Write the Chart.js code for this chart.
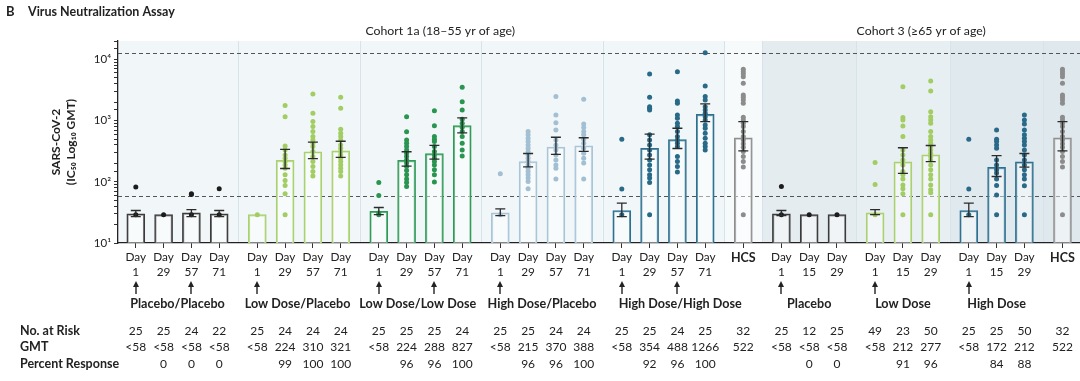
<!DOCTYPE html>
<html><head><meta charset="utf-8">
<script src="https://cdn.jsdelivr.net/npm/chart.js@4"></script>
<style>html,body{margin:0;padding:0;background:#fff;}canvas{display:block;}</style>
</head><body>
<canvas id="c" width="1080" height="381"></canvas>
<script>
// ---------- DATA ----------
const groupNames = ['Placebo/Placebo','Low Dose/Placebo','Low Dose/Low Dose','High Dose/Placebo','High Dose/High Dose','','Placebo','Low Dose','High Dose',''];
const cohortNames = ['Cohort 1a (18–55 yr of age)','Cohort 3 (≥65 yr of age)'];
const cohortGroups = [[0,5],[6,9]];
const categoryGroup = [0,0,0,0, 1,1,1,1, 2,2,2,2, 3,3,3,3, 4,4,4,4, 5, 6,6,6, 7,7,7, 8,8,8, 9];
const dayLabels = ['1','29','57','71','1','29','57','71','1','29','57','71','1','29','57','71','1','29','57','71','HCS','1','15','29','1','15','29','1','15','29','HCS'];
const doseGiven = [1,0,1,0, 1,0,0,0, 1,0,1,0, 1,0,0,0, 1,0,1,0, 0, 1,0,0, 1,0,0, 1,0,0, 0];
const barGMT = [30,29,31,30, 29,224,310,321, 33,224,288,827, 31,215,370,388, 34,354,488,1266, 522, 30,29,29, 31,212,277, 34,172,212, 522];
const ciLow  = [27,null,27,27, null,165,240,250, 29,180,235,630, 28,175,280,315, 27,235,350,965, 320, 28,null,null, 29,137,213, 27,122,174, 320];
const ciHigh = [34,null,35,34, null,340,445,460, 38,310,395,1110, 36,290,535,525, 45,600,750,1880, 960, 34,null,null, 35,360,392, 45,267,290, 960];
const hcsPoints = [6890,6300,5780,5220,4070,2625,2410,2180,1920,1135,1025,908,798,662,548,484,417,368,312,259,214,174,29];
const pointValues = [
  [82,29],[29],[64,62,29],[77,29],
  [29],
  [1760,1160,386,332,275,243,214,189,167,130,105,87,64,29],
  [2730,1320,964,798,662,548,484,428,377,312,259,214,178,147,125],
  [2410,1590,725,623,548,484,401,355,312,275,243,214,189,167,147,125],
  [97,60,31,29],
  [1160,655,484,428,377,332,294,259,228,202,178,153,130,111,97,84],
  [1455,828,548,497,454,377,312,275,243,214,189,157,130,99],
  [3510,2040,1495,1054,908,780,662,548,428,332,265],
  [135,29],
  [662,585,516,454,401,355,312,275,243,214,189,167,147,130,115,101,77],
  [2470,1240,927,705,484,401,332,275,228,189,167,111],
  [2234,883,769,662,585,497,428,355,294,243,202,111],
  [497,76,29],
  [5780,2410,1690,1590,1495,585,484,401,332,275,228,189,157,130,115,97,29],
  [6300,2095,1920,1240,1095,908,798,662,548,484,428,377,259,214,178,144],
  [12850,3680,2470,2180,1690,1495,1320,1160,1025,851,751,623,516,428,377,332],
  hcsPoints,
  [84,29],[29],[29],
  [207,90,29],
  [3590,1120,1025,818,548,332,275,228,189,147,130,111,89,77,64,29],
  [4445,3050,1400,1160,1025,908,662,548,484,428,377,332,294,259,228,189,157,130,111,89,74,66,29],
  [497,76,29],
  [705,497,454,401,355,228,189,157,139,111,87,61,29],
  [1240,1025,883,705,585,516,454,401,332,275,228,189,157,130,111,86,29],
  hcsPoints
];
const riskRow = ['25','25','24','22','25','24','24','24','25','25','25','24','25','25','24','24','25','25','24','25','32','25','12','25','49','23','50','25','25','50','32'];
const gmtRow  = ['<58','<58','<58','<58','<58','224','310','321','<58','224','288','827','<58','215','370','388','<58','354','488','1266','522','<58','<58','<58','<58','212','277','<58','172','212','522'];
const pctRow  = ['','0','0','0','','99','100','100','','96','96','100','','96','96','100','','92','96','100','','','0','0','','91','96','','84','88',''];
const tableLabels = ['No. at Risk','GMT','Percent Response'];
const lloq = 58;
const uloq = 12850;

// ---------- STYLE ----------
const FONT = 'Lato, "Open Sans", sans-serif';
const GAP = 0.37;
const groupLabelShift = [0,-0.05,-0.1,0,0.6,0,0,0,0,0];
const barPalette   = ['#3b3b3b','#a9d170','#2f9a57','#a9c5d8','#2c6f8f','#8f8f8f','#3b3b3b','#a9d170','#2c6f8f','#8f8f8f'];
const pointPalette = ['#1c1c1c','#a2cd62','#2a9550','#a2bfd3','#286a88','#8c8c8c','#1c1c1c','#a2cd62','#286a88','#8c8c8c'];
const bgPalette    = ['#f1f7f9','#f1f7f9','#f1f7f9','#f1f7f9','#f1f7f9','#f6fafb','#e4ecf0','#e8eff2','#e0e9ee','#dfe8ed'];

const xPos = categoryGroup.map((g,i)=> i + GAP*g);
const tickLabels = dayLabels.map(d => d==='HCS' ? 'HCS' : ['Day', d]);
const barData = xPos.map((x,i)=>({x, y: barGMT[i]}));
const pointData = [], pointColors = [];
pointValues.forEach((arr,i)=>arr.forEach(v=>{pointData.push({x:xPos[i], y:v}); pointColors.push(pointPalette[categoryGroup[i]]);}));
const barColors = categoryGroup.map(g=>barPalette[g]);
const SUP = {1:'¹',2:'²',3:'³',4:'⁴'};

function groupRange(g){ const idx=[]; categoryGroup.forEach((gg,i)=>{if(gg===g) idx.push(i);}); return idx; }
function groupBounds(chart, g){
  const xs = chart.scales.x, ca = chart.chartArea;
  const idx = groupRange(g);
  const first = xPos[idx[0]], last = xPos[idx[idx.length-1]];
  let l = ca.left, r = ca.right;
  if (g>0){ const p = groupRange(g-1); l = xs.getPixelForValue((xPos[p[p.length-1]]+first)/2); }
  if (g<groupNames.length-1){ const n = groupRange(g+1); r = xs.getPixelForValue((xPos[n[0]]+last)/2); }
  return [l,r];
}

const decor = {
  id:'decor',
  beforeDraw(chart){
    const c = chart.ctx, ca = chart.chartArea;
    c.save();
    c.fillStyle='#fff'; c.fillRect(0,0,chart.width,chart.height);
    for (let g=0; g<groupNames.length; g++){
      const [l,r] = groupBounds(chart,g);
      c.fillStyle = bgPalette[g]; c.fillRect(l, ca.top, r-l, ca.bottom-ca.top);
    }
    c.strokeStyle='#d6e3ea'; c.lineWidth=1;
    for (let g=1; g<groupNames.length; g++){
      const [l] = groupBounds(chart,g);
      c.beginPath(); c.moveTo(Math.round(l)+0.5, ca.top); c.lineTo(Math.round(l)+0.5, ca.bottom); c.stroke();
    }
    // title
    c.fillStyle='#222'; c.textBaseline='middle'; c.textAlign='left';
    c.font = 'bold 13px '+FONT; c.fillText('B', 6, 12);
    c.font = 'bold 12.5px '+FONT; c.fillText('Virus Neutralization Assay', 28, 12);
    // cohort headings
    c.font = '12.3px '+FONT; c.textAlign='center';
    cohortGroups.forEach((gr,k)=>{
      const l = groupBounds(chart,gr[0])[0], r = groupBounds(chart,gr[1])[1];
      c.fillText(cohortNames[k], (l+r)/2, 31);
    });
    c.restore();
  },
  beforeDatasetsDraw(chart){
    const c = chart.ctx, ca = chart.chartArea, ys = chart.scales.y;
    c.save(); c.strokeStyle='#555'; c.lineWidth=1.2; c.setLineDash([4,3]);
    [lloq, uloq].forEach(v=>{ const y = Math.round(ys.getPixelForValue(v))+0.5; c.beginPath(); c.moveTo(ca.left, y); c.lineTo(ca.right, y); c.stroke(); });
    c.restore();
  },
  afterDatasetsDraw(chart){
    const c = chart.ctx, xs = chart.scales.x, ys = chart.scales.y;
    c.save(); c.strokeStyle='#2b2b2b'; c.lineWidth=1.3;
    xPos.forEach((x,i)=>{
      if (ciLow[i]==null) return;
      const px = xs.getPixelForValue(x), y1 = ys.getPixelForValue(ciLow[i]), y2 = ys.getPixelForValue(ciHigh[i]);
      c.beginPath(); c.moveTo(px,y1); c.lineTo(px,y2);
      c.moveTo(px-5,y1); c.lineTo(px+5,y1); c.moveTo(px-5,y2); c.lineTo(px+5,y2); c.stroke();
    });
    c.restore();
  },
  afterDraw(chart){
    const c = chart.ctx, xs = chart.scales.x, ca = chart.chartArea;
    c.save(); c.fillStyle='#222'; c.strokeStyle='#222';
    // dose arrows
    xPos.forEach((x,i)=>{
      if (!doseGiven[i]) return;
      const px = Math.round(xs.getPixelForValue(x));
      c.lineWidth=1.4; c.beginPath(); c.moveTo(px, 294); c.lineTo(px, 285); c.stroke();
      c.beginPath(); c.moveTo(px, 281); c.lineTo(px-3, 287); c.lineTo(px+3, 287); c.closePath(); c.fill();
    });
    // group labels
    c.font='bold 12.6px '+FONT; c.textAlign='center'; c.textBaseline='middle';
    groupNames.forEach((n,g)=>{
      if(!n) return; const idx = groupRange(g);
      const px = xs.getPixelForValue((xPos[idx[0]]+xPos[idx[idx.length-1]])/2 + groupLabelShift[g]);
      c.fillText(n, px, 304);
    });
    // table
    const rows = [riskRow, gmtRow, pctRow], ry = [331, 347, 364];
    rows.forEach((row,k)=>{
      c.font='bold 12.5px '+FONT; c.textAlign='left'; c.fillText(tableLabels[k], 20, ry[k]);
      c.font='12px '+FONT; c.textAlign='center';
      row.forEach((t,i)=>{ if(t) c.fillText(t, xs.getPixelForValue(xPos[i]), ry[k]); });
    });
    // y title
    c.font='bold 12px '+FONT;
    c.translate(56, (ca.top+ca.bottom)/2); c.rotate(-Math.PI/2);
    c.fillText('SARS-CoV-2', 0, 0);
    c.fillText('(IC₅₀ Log₁₀ GMT)', 0, 15);
    c.restore();
  }
};

new Chart(document.getElementById('c'), {
  type:'bar',
  data:{ datasets:[
    {type:'scatter', data:pointData, pointBackgroundColor:pointColors, pointBorderWidth:0, pointRadius:2.5, order:1},
    {type:'bar', data:barData, backgroundColor:'rgba(255,255,255,0.45)', borderColor:barColors, borderWidth:1.5, barThickness:18, grouped:false, order:2}
  ]},
  options:{
    responsive:false, animation:false, devicePixelRatio:1,
    layout:{autoPadding:false, padding:{top:41,left:0,right:0,bottom:0}},
    plugins:{legend:{display:false}, tooltip:{enabled:false}},
    scales:{
      x:{type:'linear', min:-0.64, max:33.96, offset:false,
        afterBuildTicks:s=>{ s.ticks = xPos.map(v=>({value:v})); },
        afterFit:s=>{ s.height = 138; s.paddingLeft = 0; s.paddingRight = 0; },
        ticks:{autoSkip:false, maxRotation:0, padding:2, color:'#222',
          callback:(v,i)=>tickLabels[i],
          font:ctx=>({family:FONT, size: tickLabels[ctx.index]==='HCS' ? 12.5 : 11.8, lineHeight:1.28, weight: tickLabels[ctx.index]==='HCS' ? 'bold':'normal'})},
        grid:{drawOnChartArea:false, offset:false, tickLength:5, color:'#333'},
        border:{display:true, color:'#222', width:1.3}},
      y:{type:'logarithmic', min:10, max:20000,
        afterFit:s=>{ s.width = 118; s.paddingTop = 0; s.paddingBottom = 0; },
        ticks:{autoSkip:false, padding:3, color:'#222', font:{family:FONT, size:11.5},
          callback:v=>{ const l=Math.log10(v); const r=Math.round(l); return (Math.abs(l-r)<1e-9 && SUP[r]) ? '10'+SUP[r] : ''; }},
        grid:{drawOnChartArea:false, tickLength:4, color:'#333'},
        border:{display:true, color:'#222', width:1.3}}
    }
  },
  plugins:[decor]
});
</script>
</body></html>
